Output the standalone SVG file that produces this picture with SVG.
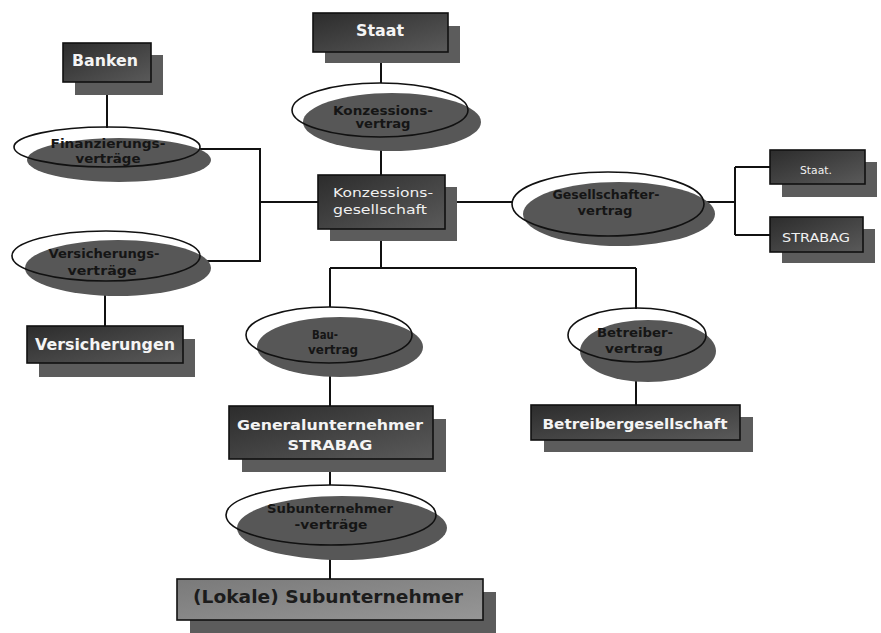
<svg xmlns="http://www.w3.org/2000/svg" width="881" height="633" viewBox="0 0 881 633">
<defs>
<linearGradient id="boxg" x1="0" y1="0" x2="1" y2="1">
<stop offset="0" stop-color="#2c2c2c"/>
<stop offset="1" stop-color="#5a5a5a"/>
</linearGradient>
<linearGradient id="boxl" x1="0" y1="0" x2="1" y2="1">
<stop offset="0" stop-color="#7a7a7a"/>
<stop offset="1" stop-color="#969696"/>
</linearGradient>
<style>
.sh{fill:#5c5c5c}
.bx{fill:url(#boxg);stroke:#111;stroke-width:1.6}
.bxl{fill:url(#boxl);stroke:#111;stroke-width:1.6}
.esh{fill:#575757}
.eo{fill:none;stroke:#111;stroke-width:1.6}
.con{fill:none;stroke:#111;stroke-width:2}
.bt{font-family:"DejaVu Sans","Liberation Sans",sans-serif;fill:#f4f4f4;font-weight:bold;text-anchor:middle}
.st{font-family:"DejaVu Sans","Liberation Sans",sans-serif;fill:#f0f0f0;text-anchor:middle}
.et{font-family:"DejaVu Sans","Liberation Sans",sans-serif;fill:#151515;text-anchor:middle;font-size:12px;font-weight:bold}
.dt{font-family:"DejaVu Sans","Liberation Sans",sans-serif;fill:#1c1c1c;font-weight:bold;text-anchor:middle}
</style>
</defs>
<rect width="881" height="633" fill="#ffffff"/>
<g id="connectors">
<path class="con" d="M381 52V83M381 137V175"/>
<path class="con" d="M107 82V128"/>
<path class="con" d="M200 149H260V261H200M260 202H318"/>
<path class="con" d="M445 202H512"/>
<path class="con" d="M705 202H735M735 167V235M735 167H770M735 235H770"/>
<path class="con" d="M381 229V268M330 268H636M330 268V307M636 268V309"/>
<path class="con" d="M105 282V326"/>
<path class="con" d="M330 363V406"/>
<path class="con" d="M636 362V405"/>
<path class="con" d="M330 459V485M330 545V579"/>
</g>
<g id="staat">
<rect class="sh" x="325" y="26" width="135" height="37"/>
<rect class="bx" x="313" y="13" width="135" height="39"/>
<text class="bt" x="380" y="36" font-size="16" textLength="48" lengthAdjust="spacingAndGlyphs">Staat</text>
</g>
<g id="banken">
<rect class="sh" x="75" y="55" width="88" height="40"/>
<rect class="bx" x="63" y="43" width="88" height="39"/>
<text class="bt" x="105" y="66" font-size="15" textLength="66" lengthAdjust="spacingAndGlyphs">Banken</text>
</g>
<g id="konzessionsvertrag">
<ellipse class="esh" cx="392" cy="122" rx="89" ry="29"/>
<ellipse class="eo" cx="380" cy="110" rx="88" ry="27"/>
<text class="et" x="383" y="115" textLength="100" lengthAdjust="spacingAndGlyphs">Konzessions-</text>
<text class="et" x="383" y="128" textLength="55" lengthAdjust="spacingAndGlyphs">vertrag</text>
</g>
<g id="finanzierungsvertraege">
<ellipse class="esh" cx="119" cy="160" rx="92" ry="22"/>
<ellipse class="eo" cx="107" cy="147" rx="93" ry="20"/>
<text class="et" x="108" y="148" textLength="115" lengthAdjust="spacingAndGlyphs">Finanzierungs-</text>
<text class="et" x="108" y="163" textLength="65" lengthAdjust="spacingAndGlyphs">verträge</text>
</g>
<g id="versicherungsvertraege">
<ellipse class="esh" cx="118" cy="268" rx="93" ry="28"/>
<ellipse class="eo" cx="106" cy="256" rx="94" ry="25"/>
<text class="et" x="104" y="258" textLength="111" lengthAdjust="spacingAndGlyphs">Versicherungs-</text>
<text class="et" x="102" y="275" textLength="69" lengthAdjust="spacingAndGlyphs">verträge</text>
</g>
<g id="konzessionsgesellschaft">
<rect class="sh" x="330" y="187" width="127" height="54"/>
<rect class="bx" x="318" y="175" width="127" height="54"/>
<text class="st" x="383" y="197" font-size="12" textLength="100" lengthAdjust="spacingAndGlyphs">Konzessions-</text>
<text class="st" x="380" y="214" font-size="12" textLength="94" lengthAdjust="spacingAndGlyphs">gesellschaft</text>
</g>
<g id="gesellschaftervertrag">
<ellipse class="esh" cx="619" cy="214" rx="96" ry="32"/>
<ellipse class="eo" cx="608" cy="204" rx="96" ry="32"/>
<text class="et" x="606" y="199" textLength="107" lengthAdjust="spacingAndGlyphs">Gesellschafter-</text>
<text class="et" x="605" y="215" textLength="55" lengthAdjust="spacingAndGlyphs">vertrag</text>
</g>
<g id="staat-rechts">
<rect class="sh" x="782" y="162" width="95" height="35"/>
<rect class="bx" x="770" y="150" width="95" height="34"/>
<text class="st" x="816" y="174" font-size="11" textLength="32" lengthAdjust="spacingAndGlyphs">Staat.</text>
</g>
<g id="strabag-rechts">
<rect class="sh" x="782" y="229" width="93" height="34"/>
<rect class="bx" x="770" y="217" width="93" height="35"/>
<text class="st" x="816" y="242" font-size="12" textLength="68" lengthAdjust="spacingAndGlyphs">STRABAG</text>
</g>
<g id="versicherungen">
<rect class="sh" x="39" y="339" width="156" height="38"/>
<rect class="bx" x="27" y="326" width="156" height="37"/>
<text class="bt" x="105" y="350" font-size="15" textLength="140" lengthAdjust="spacingAndGlyphs">Versicherungen</text>
</g>
<g id="bauvertrag">
<ellipse class="esh" cx="340" cy="347" rx="83" ry="30"/>
<ellipse class="eo" cx="329" cy="335" rx="83" ry="28"/>
<text class="et" x="325" y="339" textLength="26" lengthAdjust="spacingAndGlyphs">Bau-</text>
<text class="et" x="333" y="354" textLength="50" lengthAdjust="spacingAndGlyphs">vertrag</text>
</g>
<g id="betreibervertrag">
<ellipse class="esh" cx="648" cy="351" rx="68" ry="31"/>
<ellipse class="eo" cx="637" cy="335" rx="69" ry="27"/>
<text class="et" x="635" y="337" textLength="76" lengthAdjust="spacingAndGlyphs">Betreiber-</text>
<text class="et" x="634" y="353" textLength="58" lengthAdjust="spacingAndGlyphs">vertrag</text>
</g>
<g id="generalunternehmer">
<rect class="sh" x="242" y="419" width="204" height="53"/>
<rect class="bx" x="229" y="406" width="204" height="53"/>
<text class="bt" x="330" y="430" font-size="14" textLength="186" lengthAdjust="spacingAndGlyphs">Generalunternehmer</text>
<text class="bt" x="330" y="450" font-size="14" textLength="85" lengthAdjust="spacingAndGlyphs">STRABAG</text>
</g>
<g id="betreibergesellschaft">
<rect class="sh" x="544" y="417" width="209" height="35"/>
<rect class="bx" x="531" y="405" width="209" height="35"/>
<text class="bt" x="635" y="429" font-size="14" textLength="185" lengthAdjust="spacingAndGlyphs">Betreibergesellschaft</text>
</g>
<g id="subunternehmervertraege">
<ellipse class="esh" cx="342" cy="528" rx="105" ry="32"/>
<ellipse class="eo" cx="331" cy="515" rx="105" ry="30"/>
<text class="et" x="330" y="513" textLength="126" lengthAdjust="spacingAndGlyphs">Subunternehmer</text>
<text class="et" x="331" y="529" textLength="73" lengthAdjust="spacingAndGlyphs">-verträge</text>
</g>
<g id="lokale-subunternehmer">
<rect class="sh" x="190" y="592" width="306" height="41"/>
<rect class="bxl" x="177" y="579" width="306" height="41"/>
<text class="dt" x="328" y="603" font-size="18" textLength="270" lengthAdjust="spacingAndGlyphs">(Lokale) Subunternehmer</text>
</g>
</svg>
